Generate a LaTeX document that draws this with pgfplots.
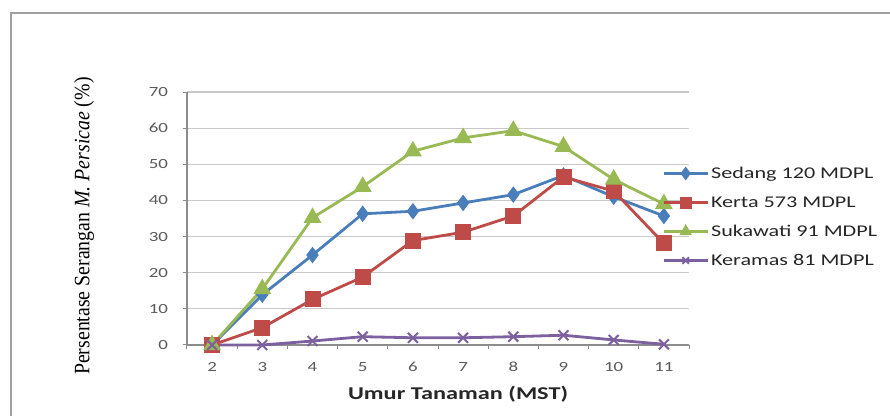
\documentclass[border=0pt]{standalone}
\usepackage{fontspec}
\usepackage{pgfplots}
\pgfplotsset{compat=1.18}
\setmainfont{Liberation Serif}
\newfontfamily\calibri[FakeStretch=1.35]{Carlito}
\newfontfamily\timesy[FakeStretch=0.9]{Liberation Serif}
\definecolor{sedang}{HTML}{4A7EBB}
\definecolor{kerta}{HTML}{BE4B48}
\definecolor{sukawati}{HTML}{98B954}
\definecolor{keramas}{HTML}{7D60A0}
\definecolor{gridgray}{HTML}{C8C8C8}
\definecolor{axisgray}{HTML}{8C8C8C}
\definecolor{tickgray}{HTML}{5A5A5A}
\definecolor{framegray}{HTML}{A0A0A0}
\begin{document}
\begin{tikzpicture}[x=1pt,y=1pt]
\useasboundingbox (0,0) rectangle (445,-208);
\draw[framegray, line width=0.8pt] (5.5,-208) -- (5.5,-6.5) -- (445,-6.5);
\begin{axis}[
  at={(93.5pt,-172.5pt)}, anchor=south west,
  scale only axis, width=251pt, height=126.5pt,
  xmin=1.5, xmax=11.5, ymin=0, ymax=70,
  xtick={2,...,11}, minor xtick={1.5,2.5,...,11.5},
  ytick={0,10,...,70},
  axis lines=left, axis line style={-, draw=axisgray, line width=0.6pt},
  ymajorgrids, grid style={gridgray, line width=0.6pt},
  tick align=outside, major tick length=2pt, minor tick length=2pt,
  tick style={axisgray, line width=0.5pt},
  major x tick style={draw=none},
  ticklabel style={font=\calibri\fontsize{7}{8}\selectfont, text=tickgray},
  yticklabel style={xshift=-4pt},
  xticklabel style={yshift=-3pt},
  /pgf/number format/assume math mode=true,
  clip=false,
  xlabel={Umur Tanaman (MST)},
  xlabel style={at={(axis description cs:0.54,-0.194)}, anchor=center,
    font=\calibri\bfseries\fontsize{9}{10}\selectfont, text=black!85},
  ylabel={Persentase Serangan \textit{M. Persicae} (\%)},
  ylabel style={at={(axis description cs:-0.205,0.47)}, anchor=center,
    font=\timesy\fontsize{11}{12}\selectfont},
  legend cell align=left,
  legend image code/.code={\draw[mark repeat=2,mark phase=2]
    plot coordinates {(0pt,0pt)(11pt,0pt)(22pt,0pt)};},
  legend image post style={mark size=2.3pt},
  legend style={at={(axis description cs:0.946,0.717)}, anchor=north west,
    draw=none, fill=none, inner sep=0pt, row sep=5pt,
    font=\calibri\fontsize{8.2}{9}\selectfont, text=black!85,
    nodes={inner sep=1pt, text height=6pt, text depth=1.5pt},
    /tikz/every even column/.style={column sep=1pt}},
]
\addplot[sedang, line width=1.4pt, mark=diamond*, mark size=3pt] coordinates {
  (2,0)(3,13.9)(4,24.9)(5,36.3)(6,37.0)(7,39.3)(8,41.6)(9,46.9)(10,41.0)(11,35.7)};
\addlegendentry{Sedang 120 MDPL}
\addplot[kerta, line width=1.4pt, mark=square*, mark size=3.3pt] coordinates {
  (2,0)(3,4.8)(4,12.6)(5,18.8)(6,28.9)(7,31.2)(8,35.7)(9,46.5)(10,42.6)(11,28.1)};
\addlegendentry{Kerta 573 MDPL}
\addplot[sukawati, line width=1.4pt, mark=triangle*, mark size=3.8pt] coordinates {
  (2,0)(3,15.5)(4,35.2)(5,43.8)(6,53.6)(7,57.3)(8,59.3)(9,54.9)(10,45.8)(11,39.0)};
\addlegendentry{Sukawati 91 MDPL}
\addplot[keramas, line width=1.4pt, mark=x, mark size=3.5pt, mark options={line width=1pt}] coordinates {
  (2,0)(3,0)(4,1.1)(5,2.3)(6,2.0)(7,2.0)(8,2.3)(9,2.7)(10,1.4)(11,0.2)};
\addlegendentry{Keramas 81 MDPL}
\end{axis}
\end{tikzpicture}
\end{document}
